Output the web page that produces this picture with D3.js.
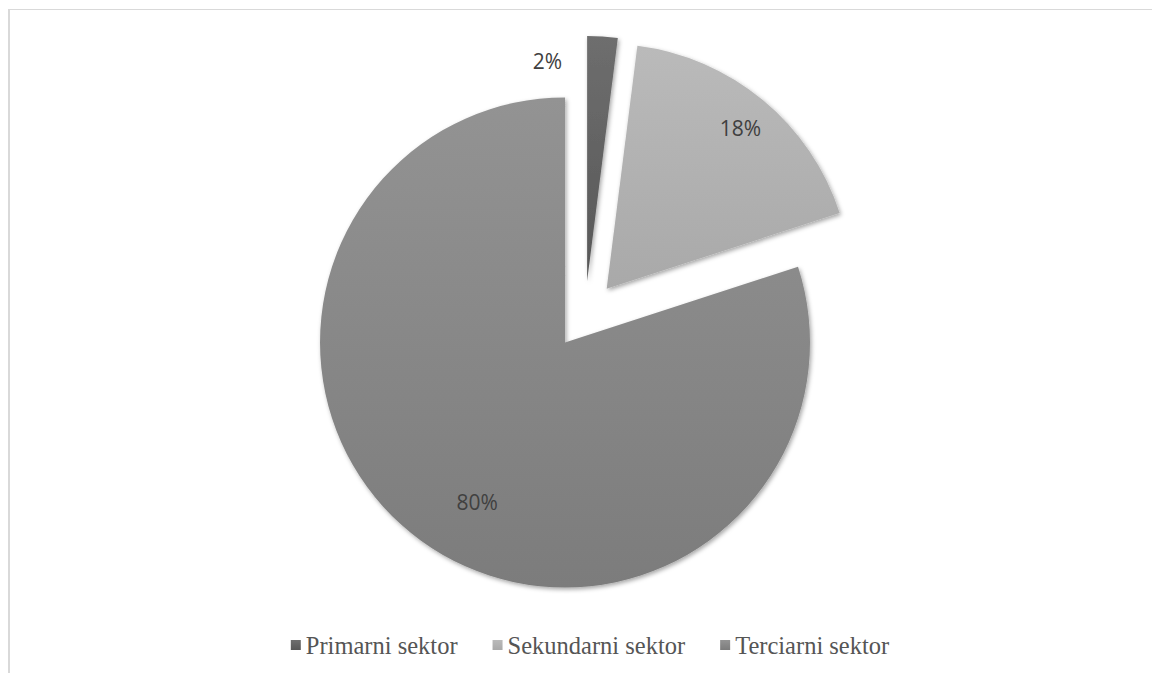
<!DOCTYPE html>
<html><head><meta charset="utf-8">
<script src="https://cdn.jsdelivr.net/npm/d3@7"></script>
<style>html,body{margin:0;padding:0;background:#fff;overflow:hidden}</style>
</head><body>
<svg id="chart" width="1153" height="673"></svg>
<script>
const categories = ["Primarni sektor", "Sekundarni sektor", "Terciarni sektor"];
const values = [2, 18, 80];
const labelTexts = ["2%", "18%", "80%"];

const colorsTop = ["#6e6e6e", "#bababa", "#939393"];
const colorsBottom = ["#575757", "#a9a9a9", "#7c7c7c"];

const W = 1153, H = 673;
const svg = d3.select("#chart");
const defs = svg.append("defs");

// Gradients
categories.forEach((c, i) => {
  const g = defs.append("linearGradient").attr("id", "g" + i)
    .attr("x1", 0).attr("y1", 0).attr("x2", 0).attr("y2", 1);
  g.append("stop").attr("offset", "0%").attr("stop-color", colorsTop[i]);
  g.append("stop").attr("offset", "100%").attr("stop-color", colorsBottom[i]);
});
const f = defs.append("filter").attr("id", "shadow")
  .attr("x", "-10%").attr("y", "-10%").attr("width", "130%").attr("height", "130%");
f.append("feDropShadow").attr("dx", 1.5).attr("dy", 2).attr("stdDeviation", 2.2)
  .attr("flood-color", "#000").attr("flood-opacity", 0.35);

// Chart border (partial, as in reference)
svg.append("line").attr("x1", 8).attr("x2", 1152).attr("y1", 9.5).attr("y2", 9.5)
  .attr("stroke", "#d9d9d9").attr("stroke-width", 1);
svg.append("line").attr("x1", 9).attr("x2", 9).attr("y1", 9).attr("y2", H)
  .attr("stroke", "#d9d9d9").attr("stroke-width", 2);

const cx = 585, cy = 315, R = 245, explode = 34;
const pie = d3.pie().sort(null).value(d => d);
const arcs = pie(values);
const arc = d3.arc().innerRadius(0).outerRadius(R);

const g = svg.append("g").attr("transform", `translate(${cx},${cy})`);
const offset = d => {
  const m = (d.startAngle + d.endAngle) / 2;
  return [explode * Math.sin(m), -explode * Math.cos(m)];
};
g.selectAll("path.slice").data(arcs).enter().append("path")
  .attr("class", "slice")
  .attr("transform", d => { const o = offset(d); return `translate(${o[0]},${o[1]})`; })
  .attr("d", arc)
  .attr("fill", (d, i) => `url(#g${i})`)
  .attr("filter", "url(#shadow)");

// Data labels (offsets relative to each slice's apex: polar radius / angle in degrees)
const labelPolar = [[222, -10.3], [208, 40], [183, 208.7]];
g.selectAll("text.lbl").data(arcs).enter().append("text")
  .attr("class", "lbl")
  .attr("x", (d, i) => offset(d)[0] + labelPolar[i][0] * Math.sin(labelPolar[i][1] * Math.PI / 180))
  .attr("y", (d, i) => offset(d)[1] - labelPolar[i][0] * Math.cos(labelPolar[i][1] * Math.PI / 180) + 6.5)
  .attr("text-anchor", "middle")
  .attr("font-family", "'Open Sans', sans-serif")
  .attr("font-size", 21)
  .attr("fill", "#404040")
  .text((d, i) => labelTexts[i]);

// Legend
const leg = svg.append("g");
const items = leg.selectAll("g.item").data(categories).enter().append("g").attr("class", "item");
items.append("rect").attr("y", 0).attr("width", 10).attr("height", 10)
  .attr("fill", (d, i) => `url(#g${i})`);
items.append("text").attr("x", 15).attr("y", 14)
  .attr("font-family", "'Liberation Serif', 'Times New Roman', serif")
  .attr("font-size", 24.5).attr("fill", "#555555").text(d => d);
let x = 0; const gap = 35;
items.each(function () {
  const t = d3.select(this).select("text").node().getComputedTextLength();
  d3.select(this).attr("transform", `translate(${x},0)`);
  x += 15 + t + gap;
});
const totalW = x - gap;
leg.attr("transform", `translate(${590 - totalW / 2},640)`);
</script>
</body></html>
